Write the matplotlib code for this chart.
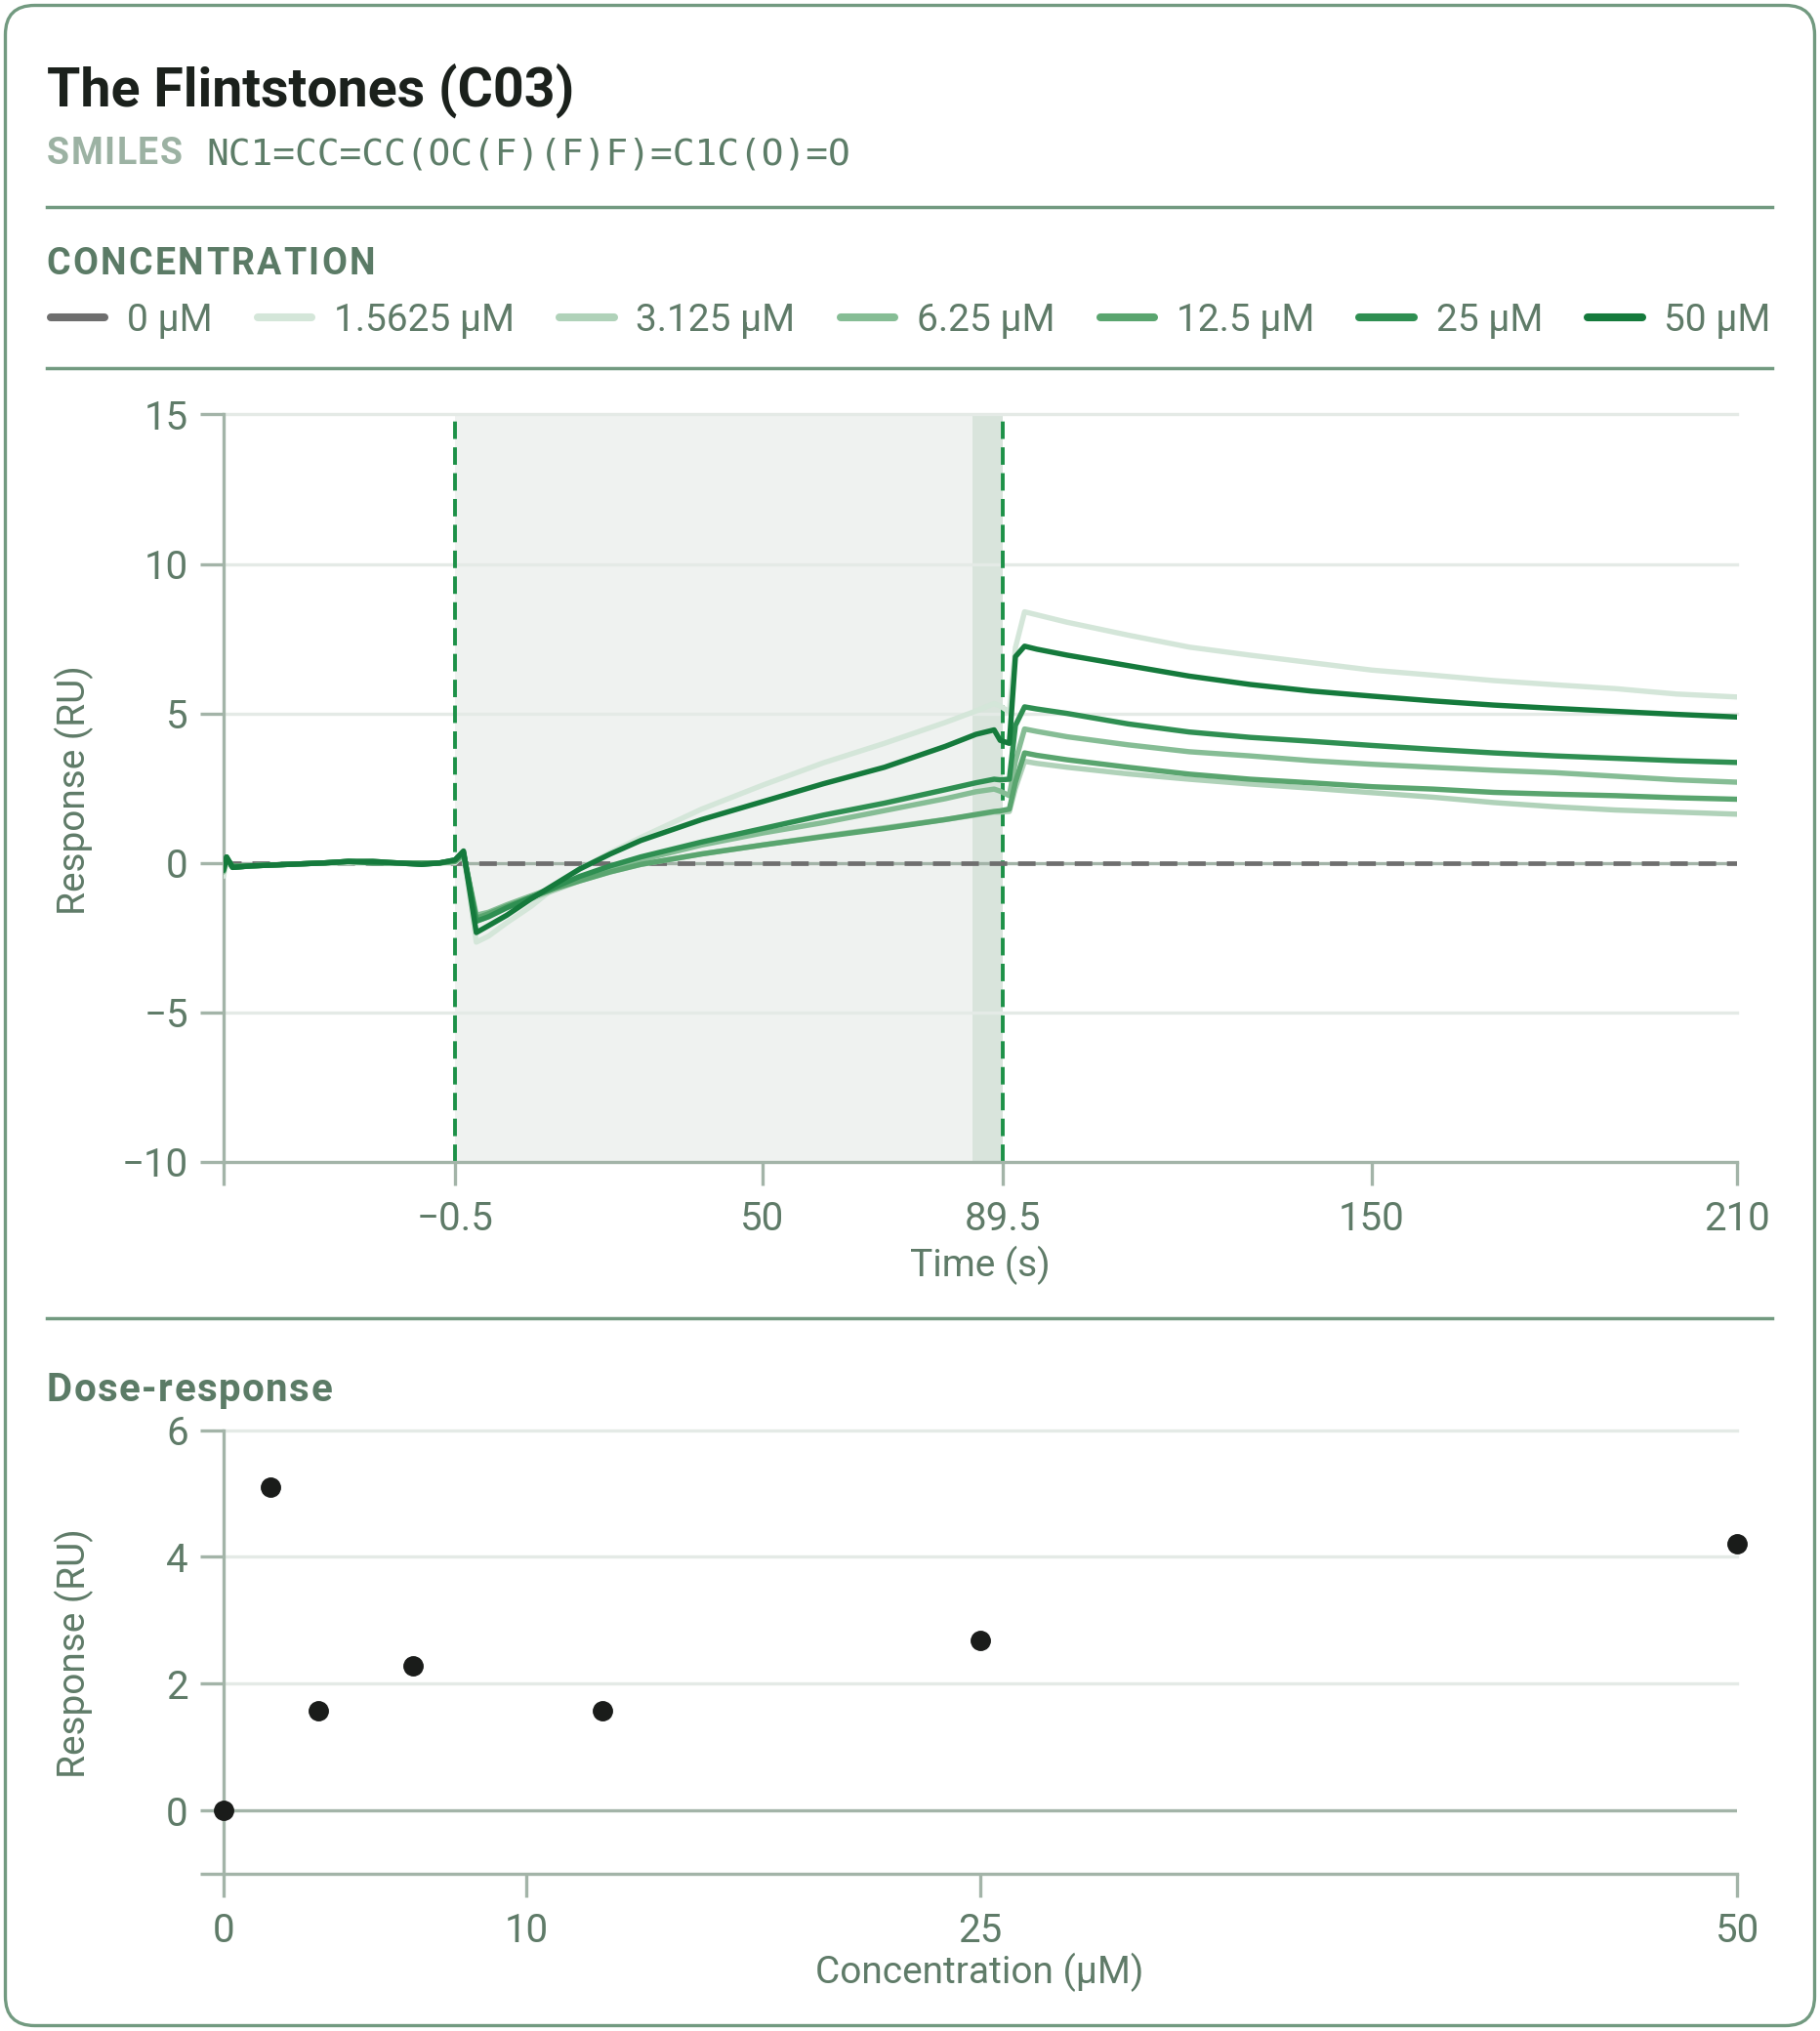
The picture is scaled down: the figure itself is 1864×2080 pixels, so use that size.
import matplotlib
matplotlib.use("Agg")
import matplotlib.pyplot as plt
from matplotlib.lines import Line2D
from matplotlib.patches import FancyBboxPatch
from matplotlib.transforms import IdentityTransform

plt.rcParams['font.family'] = ['Roboto', 'DejaVu Sans']

W, H = 1864, 2080

# ---- data -------------------------------------------------------------
title = "The Flintstones (C03)"
smiles = "NC1=CC=CC(OC(F)(F)F)=C1C(O)=O"

conc_labels = ["0 µM", "1.5625 µM", "3.125 µM", "6.25 µM", "12.5 µM", "25 µM", "50 µM"]
conc_colors = ["#6e6e6e", "#d4e6d9", "#b0d2b9", "#86bd95", "#5aa56f", "#2f8f52", "#157a3c"]

time_s = [-38.5, -38.0, -37.0, -34.0, -28.0, -22.0, -18.0, -14.0, -10.0, -6.0, -3.0, -0.5,
          0.9, 3.0, 5.0, 8.0, 12.0, 16.0, 20.0, 25.0, 30.0, 40.0, 50.0, 60.0, 70.0, 80.0,
          85.0, 88.0, 89.0, 90.5,
          91.5, 93.0, 95.0, 100.0, 110.0, 120.0, 130.0, 140.0, 150.0, 160.0, 170.0, 180.0,
          190.0, 200.0, 210.0]

time_0 = [-38.5, 210.0]
resp_0 = [0.0, 0.0]

resp_1p5625 = [-0.45, 0.05, -0.15, -0.1, -0.05, 0.0, 0.0, 0.0, 0.0, 0.0, 0.0, 0.0,
               0.3, -2.65, -2.45, -2.0, -1.45, -0.8, -0.2, 0.35, 0.85, 1.8, 2.6, 3.35, 4.0, 4.7,
               5.08, 5.33, 5.25, 5.05,
               7.2, 8.4, 8.3, 8.05, 7.62, 7.22, 6.95, 6.7, 6.45, 6.28, 6.1, 5.96, 5.83, 5.65, 5.55]

resp_3p125 = [-0.3, 0.1, -0.15, -0.1, -0.05, 0.0, 0.0, 0.05, 0.0, 0.0, 0.0, 0.05,
              0.2, -1.95, -1.8, -1.5, -1.2, -0.9, -0.6, -0.3, -0.05, 0.3, 0.6, 0.9, 1.18, 1.45,
              1.6, 1.7, 1.7, 1.72,
              2.5, 3.4, 3.33, 3.2, 2.98, 2.8, 2.64, 2.5, 2.35, 2.2, 2.02, 1.88, 1.77, 1.7, 1.63]

resp_6p25 = [-0.3, 0.15, -0.15, -0.1, -0.05, 0.0, 0.05, 0.0, 0.0, 0.0, 0.0, 0.05,
             0.3, -1.75, -1.65, -1.4, -1.1, -0.8, -0.5, -0.2, 0.1, 0.6, 1.0, 1.35, 1.75, 2.15,
             2.38, 2.47, 2.4, 2.25,
             3.4, 4.48, 4.4, 4.22, 3.95, 3.72, 3.58, 3.42, 3.3, 3.2, 3.1, 3.02, 2.9, 2.78, 2.7]

resp_12p5 = [-0.25, 0.15, -0.1, -0.1, -0.05, 0.0, 0.05, 0.05, 0.0, 0.0, 0.0, 0.05,
             0.3, -1.85, -1.7, -1.45, -1.15, -0.85, -0.6, -0.3, -0.05, 0.3, 0.6, 0.88, 1.15, 1.45,
             1.62, 1.72, 1.74, 1.8,
             2.7, 3.68, 3.6, 3.45, 3.2, 2.97, 2.8, 2.68, 2.55, 2.47, 2.36, 2.3, 2.25, 2.18, 2.13]

resp_25 = [-0.2, 0.2, -0.15, -0.1, -0.05, 0.0, 0.05, 0.0, 0.0, -0.05, 0.0, 0.1,
           0.35, -1.95, -1.8, -1.5, -1.15, -0.8, -0.45, -0.1, 0.2, 0.7, 1.15, 1.6, 2.0, 2.45,
           2.68, 2.8, 2.78, 2.8,
           4.6, 5.22, 5.15, 5.0, 4.65, 4.38, 4.2, 4.07, 3.93, 3.8, 3.68, 3.58, 3.5, 3.42, 3.36]

resp_50 = [-0.25, 0.2, -0.15, -0.1, -0.05, 0.0, 0.05, 0.05, 0.0, -0.05, 0.0, 0.1,
           0.4, -2.33, -2.1, -1.75, -1.2, -0.7, -0.2, 0.3, 0.75, 1.45, 2.05, 2.65, 3.2, 3.9,
           4.3, 4.45, 4.1, 4.0,
           6.9, 7.25, 7.15, 6.95, 6.6, 6.25, 5.97, 5.75, 5.58, 5.42, 5.28, 5.17, 5.07, 4.97, 4.88]

curves = [resp_1p5625, resp_3p125, resp_6p25, resp_12p5, resp_25, resp_50]

inject_start, inject_end, report_start = -0.5, 89.5, 84.5
time_ticks = [-38.5, -0.5, 50, 89.5, 150, 210]
time_tick_labels = ["", "\u22120.5", "50", "89.5", "150", "210"]
resp_ticks = [-10, -5, 0, 5, 10, 15]
resp_tick_labels = ["\u221210", "\u22125", "0", "5", "10", "15"]

dose_conc = [0, 1.5625, 3.125, 6.25, 12.5, 25, 50]
dose_resp = [0.0, 5.1, 1.57, 2.29, 1.57, 2.69, 4.2]
dose_xticks = [0, 10, 25, 50]
dose_yticks = [-1, 0, 2, 4, 6]
dose_ytick_labels = ["", "0", "2", "4", "6"]

# ---- styles -----------------------------------------------------------
border = "#729a80"
spine = "#a3b4a8"
grid = "#e4eae6"
label_col = "#5f7b68"
head_col = "#5b7b66"
inject_col = "#1d9148"


def fx(px):
    return px / W


def fy(py):
    return 1 - py / H


fig = plt.figure(figsize=(W / 100, H / 100), dpi=100)
renderer = fig.canvas.get_renderer()


def spaced_text(x_px, y_px, s, gap_px, **kw):
    x = x_px
    for ch in s:
        t = fig.text(fx(x), fy(y_px), ch, va="baseline", **kw)
        x += t.get_window_extent(renderer).width + gap_px


def hline(y_px, x0=47.6, x1=1815.0):
    fig.add_artist(Line2D([fx(x0), fx(x1)], [fy(y_px), fy(y_px)], transform=fig.transFigure,
                          color=border, lw=2.5))


# card
fig.add_artist(FancyBboxPatch((5.5, 5.5), W - 11, H - 11,
                              boxstyle="round,pad=0,rounding_size=30",
                              transform=IdentityTransform(), fill=False,
                              ec=border, lw=2.4))

# header
fig.text(fx(47.6), fy(108.8), title, fontsize=40, fontweight="bold", color="#1b211c",
         va="baseline")
spaced_text(47.6, 168.5, "SMILES", 1.6, fontsize=27, fontweight="bold", color="#9cb2a3")
fig.text(fx(211.7), fy(168.5), smiles, fontsize=27.3, family="DejaVu Sans Mono",
         color="#5d7d68", va="baseline")
hline(212)
spaced_text(47.6, 281.0, "CONCENTRATION", 2.3, fontsize=27, fontweight="bold", color=head_col)

handles = [Line2D([], [], color=c, lw=5.8, solid_capstyle="round") for c in conc_colors]
fig.legend(handles, conc_labels, loc="center left", bbox_to_anchor=(fx(51.6), fy(328.5)),
           ncol=7, frameon=False, fontsize=28, labelcolor=label_col,
           handlelength=1.43, handletextpad=0.58, columnspacing=1.19,
           borderpad=0, borderaxespad=0)
hline(377)


def style_axes(ax):
    for side in ("top", "right"):
        ax.spines[side].set_visible(False)
    for side in ("left", "bottom"):
        ax.spines[side].set_color(spine)
        ax.spines[side].set_linewidth(2.4)
    ax.tick_params(length=17, width=2.4, color=spine, labelcolor=label_col, labelsize=29)
    ax.tick_params(axis="x", pad=11)
    ax.tick_params(axis="y", pad=9)


# sensorgram
ax = fig.add_axes([fx(228.9), fy(1189.9), fx(1779.3) - fx(228.9), (1189.9 - 424.5) / H])
style_axes(ax)
ax.set_xlim(-38.5, 210)
ax.set_ylim(-10, 15)
ax.axvspan(inject_start, inject_end, color="#eff2f0", lw=0, zorder=0.2)
ax.axvspan(report_start, inject_end, color="#d9e4dc", lw=0, zorder=0.3)
for y in [-5, 5, 10, 15]:
    ax.axhline(y, color=grid, lw=2.4, zorder=1, clip_on=False)
ax.axhline(0, color=spine, lw=2.4, zorder=1.2)
for xv in (inject_start, inject_end):
    ax.axvline(xv, color=inject_col, lw=2.8, dashes=(4.6, 2.2), zorder=2)
ax.plot(time_0, resp_0, color=conc_colors[0], lw=3.4, dashes=(3.8, 2.35), zorder=2.5)
for vals, c in zip(curves, conc_colors[1:]):
    ax.plot(time_s, vals, color=c, lw=3.9, zorder=3, solid_joinstyle="round",
            solid_capstyle="round")
ax.set_xticks(time_ticks)
ax.set_xticklabels(time_tick_labels)
ax.set_yticks(resp_ticks)
ax.set_yticklabels(resp_tick_labels)
fig.text(fx(75.4), fy(809), "Response (RU)", rotation=90, ha="center", va="center",
         fontsize=28, color=label_col)
fig.text(fx(1004), fy(1296), "Time (s)", ha="center", va="center", fontsize=28,
         color=label_col)

hline(1350)

# dose-response
spaced_text(47.6, 1435.3, "Dose-response", 1.5, fontsize=29, fontweight="bold", color=head_col)
ax2 = fig.add_axes([fx(228.9), fy(1919.4), fx(1779.3) - fx(228.9), (1919.4 - 1464.5) / H])
style_axes(ax2)
ax2.set_xlim(0, 50)
ax2.set_ylim(-1, 6)
for y in [2, 4, 6]:
    ax2.axhline(y, color=grid, lw=2.4, zorder=1, clip_on=False)
ax2.axhline(0, color=spine, lw=2.4, zorder=1.2)
ax2.plot(dose_conc, dose_resp, "o", color="#1a1c1a", markersize=14, zorder=5, clip_on=False)
ax2.set_xticks(dose_xticks)
ax2.set_yticks(dose_yticks)
ax2.set_yticklabels(dose_ytick_labels)
fig.text(fx(75.4), fy(1693), "Response (RU)", rotation=90, ha="center", va="center",
         fontsize=28, color=label_col)
fig.text(fx(1003), fy(2020), "Concentration (µM)", ha="center", va="center", fontsize=28,
         color=label_col)

fig.savefig("out.png", dpi=100)
